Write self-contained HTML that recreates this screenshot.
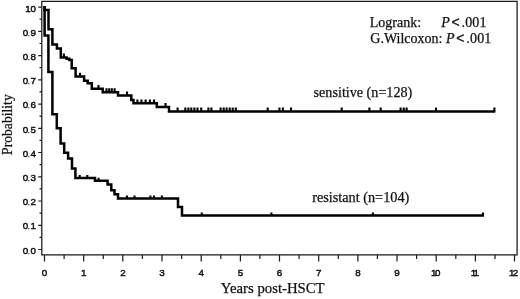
<!DOCTYPE html>
<html><head><meta charset="utf-8"><title>Survival</title>
<style>html,body{margin:0;padding:0;background:#fff}svg{display:block}</style></head>
<body>
<svg width="520" height="299" viewBox="0 0 520 299">
<rect width="520" height="299" fill="#fff"/>
<path d="M41.8,1.4H517.1V254.9H41.8Z" fill="none" stroke="#1a1a1a" stroke-width="1.25"/>
<path d="M44.5,254.9v6.6M64.1,254.9v4.1M83.7,254.9v6.6M103.3,254.9v4.1M122.8,254.9v6.6M142.4,254.9v4.1M162.0,254.9v6.6M181.6,254.9v4.1M201.2,254.9v6.6M220.8,254.9v4.1M240.4,254.9v6.6M259.9,254.9v4.1M279.5,254.9v6.6M299.1,254.9v4.1M318.7,254.9v6.6M338.3,254.9v4.1M357.9,254.9v6.6M377.4,254.9v4.1M397.0,254.9v6.6M416.6,254.9v4.1M436.2,254.9v6.6M455.8,254.9v4.1M475.4,254.9v6.6M495.0,254.9v4.1M514.5,254.9v6.6M41.8,249.5h-3.5M41.8,237.4h-2.3M41.8,225.3h-3.5M41.8,213.1h-2.3M41.8,201.0h-3.5M41.8,188.9h-2.3M41.8,176.8h-3.5M41.8,164.7h-2.3M41.8,152.5h-3.5M41.8,140.4h-2.3M41.8,128.3h-3.5M41.8,116.2h-2.3M41.8,104.1h-3.5M41.8,91.9h-2.3M41.8,79.8h-3.5M41.8,67.7h-2.3M41.8,55.6h-3.5M41.8,43.5h-2.3M41.8,31.3h-3.5M41.8,19.2h-2.3M41.8,7.1h-3.5" stroke="#1a1a1a" stroke-width="1.2" fill="none"/>
<g font-family="Liberation Sans, Arial, sans-serif" font-size="9.8" fill="#111" stroke="#111" stroke-width="0.45">
<text x="44.6" y="275.7" text-anchor="middle">0</text>
<text x="83.8" y="275.7" text-anchor="middle">1</text>
<text x="122.9" y="275.7" text-anchor="middle">2</text>
<text x="162.1" y="275.7" text-anchor="middle">3</text>
<text x="201.3" y="275.7" text-anchor="middle">4</text>
<text x="240.5" y="275.7" text-anchor="middle">5</text>
<text x="279.6" y="275.7" text-anchor="middle">6</text>
<text x="318.8" y="275.7" text-anchor="middle">7</text>
<text x="358.0" y="275.7" text-anchor="middle">8</text>
<text x="397.1" y="275.7" text-anchor="middle">9</text>
<text x="430.9" y="275.7"><tspan>1</tspan><tspan dx="-1.45">0</tspan></text>
<text x="470.7" y="275.7"><tspan>1</tspan><tspan dx="-2.05">1</tspan></text>
<text x="509.0" y="275.7"><tspan>1</tspan><tspan dx="-1.75">2</tspan></text>
<text y="253.5"><tspan x="22.8">0</tspan><tspan x="28.0" font-size="6">.</tspan><tspan x="30.4">0</tspan></text>
<text y="229.3"><tspan x="22.8">0</tspan><tspan x="28.0" font-size="6">.</tspan><tspan x="30.4">1</tspan></text>
<text y="205.1"><tspan x="22.8">0</tspan><tspan x="28.0" font-size="6">.</tspan><tspan x="30.4">2</tspan></text>
<text y="180.9"><tspan x="22.8">0</tspan><tspan x="28.0" font-size="6">.</tspan><tspan x="30.4">3</tspan></text>
<text y="156.7"><tspan x="22.8">0</tspan><tspan x="28.0" font-size="6">.</tspan><tspan x="30.4">4</tspan></text>
<text y="132.5"><tspan x="22.8">0</tspan><tspan x="28.0" font-size="6">.</tspan><tspan x="30.4">5</tspan></text>
<text y="108.3"><tspan x="22.8">0</tspan><tspan x="28.0" font-size="6">.</tspan><tspan x="30.4">6</tspan></text>
<text y="84.1"><tspan x="22.8">0</tspan><tspan x="28.0" font-size="6">.</tspan><tspan x="30.4">7</tspan></text>
<text y="59.9"><tspan x="22.8">0</tspan><tspan x="28.0" font-size="6">.</tspan><tspan x="30.4">8</tspan></text>
<text y="35.7"><tspan x="22.8">0</tspan><tspan x="28.0" font-size="6">.</tspan><tspan x="30.4">9</tspan></text>
<text y="11.5"><tspan x="25.3">1</tspan><tspan x="28.0" font-size="6">.</tspan><tspan x="30.4">0</tspan></text>
</g>
<path d="M44.6,5.9 L44.6,9.9 L48.5,9.9 L48.5,29.3 L52.4,29.3 L52.4,44.6 L56.9,44.6 L56.9,48.4 L60.8,48.4 L60.8,57.4 L66.6,57.4 L66.6,58.7 L69.4,58.7 L69.4,59.9 L71.7,59.9 L71.7,68.3 L75.6,68.3 L75.6,76.6 L84.1,76.6 L84.1,80.8 L87.7,80.8 L87.7,83.2 L91.8,83.2 L91.8,88.8 L102.7,88.8 L102.7,92.2 L118.0,92.2 L118.0,95.4 L131.3,95.4 L131.3,99.9 L133.5,99.9 L133.5,103.3 L156.8,103.3 L156.8,107.0 L169.0,107.0 L169.0,111.5 L495.3,111.5" stroke="#000" stroke-width="2.5" fill="none" stroke-linejoin="miter"/>
<path d="M44.6,5.9 L44.6,35.4 L48.4,35.4 L48.4,72.1 L52.4,72.1 L52.4,114.2 L56.8,114.2 L56.8,128.2 L60.6,128.2 L60.6,143.4 L64.2,143.4 L64.2,152.8 L68.1,152.8 L68.1,158.4 L72.0,158.4 L72.0,168.4 L75.4,168.4 L75.4,177.9 L95.0,177.9 L95.0,180.7 L107.6,180.7 L107.6,184.6 L111.3,184.6 L111.3,190.2 L114.5,190.2 L114.5,194.2 L118.0,194.2 L118.0,198.4 L178.0,198.4 L178.0,206.9 L182.0,206.9 L182.0,215.4 L484.0,215.4" stroke="#000" stroke-width="2.5" fill="none" stroke-linejoin="miter"/>
<path d="M63.9,57.4V53.5M80.0,76.6V72.7M98.5,88.8V84.9M106.5,92.2V88.3M109.2,92.2V88.3M111.8,92.2V88.3M114.6,92.2V88.3M127.0,95.4V91.5M137.4,103.3V99.4M141.4,103.3V99.4M145.6,103.3V99.4M149.9,103.3V99.4M154.0,103.3V99.4M165.5,107.0V103.1M177.6,111.5V107.6M185.3,111.5V107.6M188.4,111.5V107.6M191.3,111.5V107.6M194.4,111.5V107.6M197.5,111.5V107.6M201.2,111.5V107.6M208.4,111.5V107.6M211.4,111.5V107.6M220.6,111.5V107.6M223.7,111.5V107.6M226.6,111.5V107.6M229.7,111.5V107.6M232.7,111.5V107.6M235.8,111.5V107.6M267.7,111.5V107.6M279.4,111.5V107.6M282.9,111.5V107.6M291.0,111.5V107.6M341.7,111.5V107.6M369.4,111.5V107.6M380.7,111.5V107.6M400.6,111.5V107.6M403.7,111.5V107.6M406.6,111.5V107.6M436.0,111.5V107.6M494.4,111.5V107.6M79.7,177.9V175.0M87.3,177.9V175.0M98.6,180.7V177.8M126.9,198.4V195.5M134.5,198.4V195.5M150.4,198.4V195.5M154.0,198.4V195.5M161.9,198.4V195.5M201.8,215.4V212.5M271.4,215.4V212.5M372.9,215.4V212.5M483.0,215.4V212.5" stroke="#000" stroke-width="2.1" fill="none"/>
<g font-family="Liberation Serif, Times New Roman, serif" font-size="14" fill="#111" stroke="#111" stroke-width="0.25">
<text x="369.8" y="26.7">Logrank:</text>
<text x="441.3" y="26.7"><tspan font-style="italic">P</tspan> <tspan font-family="Liberation Sans, sans-serif" font-size="14" dx="-1.9">&lt;</tspan> <tspan dx="-1.6" letter-spacing="0.15">.001</tspan></text>
<text x="370.3" y="43">G.Wilcoxon:</text>
<text x="446.1" y="43"><tspan font-style="italic">P</tspan> <tspan font-family="Liberation Sans, sans-serif" font-size="14" dx="-1.9">&lt;</tspan> <tspan dx="-1.6" letter-spacing="0.15">.001</tspan></text>
<text x="313.6" y="96.8" font-size="14.15">sensitive (n=128)</text>
<text x="312.2" y="202.2" font-size="14.25">resistant (n=104)</text>
<text x="220.8" y="292.8" font-size="14.75">Years post-HSCT</text>
<text transform="translate(11.8,154.9) rotate(-90)" font-size="13.65">Probability</text>
</g>
</svg>
</body></html>
